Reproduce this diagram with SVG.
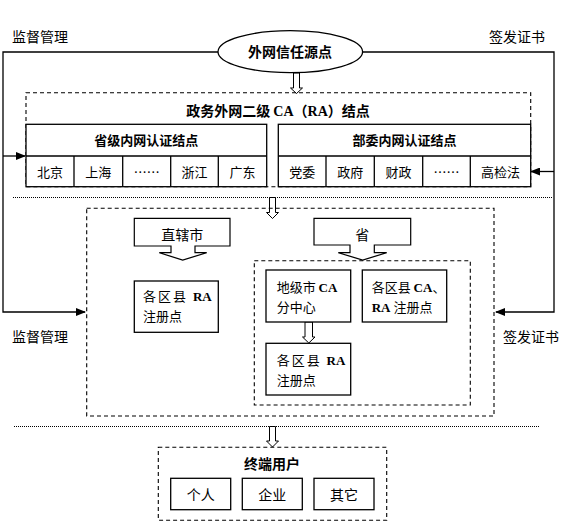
<svg xmlns="http://www.w3.org/2000/svg" width="580" height="530" viewBox="0 0 580 530">
<defs>
<marker id="ah" markerWidth="10" markerHeight="8" refX="9" refY="4" orient="auto" markerUnits="userSpaceOnUse">
<path d="M0,0 L10,4 L0,8 z" fill="#000"/>
</marker>
<style>
text{font-family:"Noto Sans CJK SC","Liberation Sans",sans-serif;fill:#000}
.t{font-size:14px}
.s{font-size:13px}
.b{font-weight:bold}
.lat{font-family:"Liberation Serif",serif;font-weight:bold}
.box{fill:#fff;stroke:#000;stroke-width:1.3}
.dash{fill:none;stroke:#000;stroke-width:1.1;stroke-dasharray:4 3}
.dot{fill:none;stroke:#000;stroke-width:1;stroke-dasharray:1 1}
.line{fill:none;stroke:#000;stroke-width:1.3}
.harrow{fill:#fff;stroke:#000;stroke-width:1}
.callout{fill:#fff;stroke:#000;stroke-width:1.2}
</style>
</defs>
<rect width="580" height="530" fill="#fff"/>

<!-- separators -->
<g id="separators">
<line class="dot" x1="13" y1="197.5" x2="553" y2="197.5"/>
<line class="dot" x1="14" y1="426.5" x2="540" y2="426.5"/>
</g>

<!-- connectors -->
<g id="connectors">
<polyline class="line" points="218,52 3,52 3,312 85,312" marker-end="url(#ah)"/>
<line class="line" x1="3" y1="156" x2="25" y2="156" marker-end="url(#ah)"/>
<polyline class="line" points="362,52 554,52 554,312 496,312" marker-end="url(#ah)"/>
<line class="line" x1="554" y1="171.5" x2="531" y2="171.5" marker-end="url(#ah)"/>
<path class="harrow" d="M293.5,73 H299.5 V88 H302.5 L296.5,93.5 L290.5,88 H293.5 Z"/>
<path class="harrow" d="M269.5,197.5 H275.5 V212.5 H278.5 L272.5,218.5 L266.5,212.5 H269.5 Z"/>
<path class="harrow" d="M305,322 H312.5 V337 H315 L308.8,343 L302.5,337 H305 Z"/>
<path class="harrow" d="M269.5,426.5 H275.5 V441 H278.5 L272.5,447 L266.5,441 H269.5 Z"/>
</g>

<!-- labels -->
<g id="labels">
<text class="t" x="12" y="42">监督管理</text>
<text class="t" x="489" y="42">签发证书</text>
<text class="t" x="12" y="342">监督管理</text>
<text class="t" x="503" y="342">签发证书</text>
</g>

<!-- root node -->
<g id="root">
<ellipse cx="290.3" cy="51.7" rx="72.3" ry="21" class="box"/>
<text class="t b" x="290" y="57" text-anchor="middle">外网信任源点</text>
</g>

<!-- second level CA -->
<g id="level2">
<rect class="dash" x="26" y="92.7" width="504.7" height="94"/>
<text class="t b" x="278" y="116" text-anchor="middle">政务外网二级 <tspan class="lat">CA</tspan>（<tspan class="lat">RA</tspan>）结点</text>
</g>

<g id="provincial">
<rect class="box" x="26" y="124.3" width="240.7" height="62.4"/>
<line class="line" x1="26" y1="156" x2="266.7" y2="156"/>
<line class="line" x1="74" y1="156" x2="74" y2="186.7"/>
<line class="line" x1="122.7" y1="156" x2="122.7" y2="186.7"/>
<line class="line" x1="170.7" y1="156" x2="170.7" y2="186.7"/>
<line class="line" x1="218.3" y1="156" x2="218.3" y2="186.7"/>
<text class="s b" x="146.3" y="145" text-anchor="middle">省级内网认证结点</text>
<text class="s" x="50" y="177" text-anchor="middle">北京</text>
<text class="s" x="98.3" y="177" text-anchor="middle">上海</text>
<text class="s" x="146.7" y="177" text-anchor="middle">……</text>
<text class="s" x="194.5" y="177" text-anchor="middle">浙江</text>
<text class="s" x="242.5" y="177" text-anchor="middle">广东</text>
</g>

<g id="ministerial">
<rect class="box" x="278.3" y="124.3" width="252.4" height="62.4"/>
<line class="line" x1="278.3" y1="156" x2="530.7" y2="156"/>
<line class="line" x1="326" y1="156" x2="326" y2="186.7"/>
<line class="line" x1="374.3" y1="156" x2="374.3" y2="186.7"/>
<line class="line" x1="422.7" y1="156" x2="422.7" y2="186.7"/>
<line class="line" x1="470.3" y1="156" x2="470.3" y2="186.7"/>
<text class="s b" x="404.5" y="145" text-anchor="middle">部委内网认证结点</text>
<text class="s" x="302.2" y="177" text-anchor="middle">党委</text>
<text class="s" x="350.2" y="177" text-anchor="middle">政府</text>
<text class="s" x="398.5" y="177" text-anchor="middle">财政</text>
<text class="s" x="446.5" y="177" text-anchor="middle">……</text>
<text class="s" x="500.5" y="177" text-anchor="middle">高检法</text>
</g>

<!-- regional level -->
<g id="regional">
<rect class="dash" x="86.7" y="208.3" width="407.3" height="207.7"/>
</g>

<g id="municipality">
<path class="callout" d="M134.3,218.3 H230 V246 H195 V252.7 H206.7 L182.7,260 L159.3,252.7 H171 V246 H134.3 Z"/>
<text class="t" x="182.2" y="240" text-anchor="middle">直辖市</text>
</g>

<g id="muni-ra">
<rect class="box" x="134.3" y="281" width="84" height="51.3"/>
<text class="s" x="143" y="301"><tspan letter-spacing="2">各区县 </tspan><tspan class="lat">RA</tspan></text>
<text class="s" x="143" y="321">注册点</text>
</g>

<g id="province">
<path class="callout" d="M314,218.3 H410.7 V245 H374.3 V252.7 H386.7 L362.7,260 L338.3,252.7 H350 V245 H314 Z"/>
<text class="t" x="362.3" y="240" text-anchor="middle">省</text>
</g>

<g id="province-area">
<rect class="dash" x="254.3" y="260.7" width="216" height="144.3"/>
</g>

<g id="city-ca">
<rect class="box" x="266" y="270" width="84.7" height="52"/>
<text class="s" x="276.7" y="292">地级市 <tspan class="lat">CA</tspan></text>
<text class="s" x="276.7" y="312">分中心</text>
</g>

<g id="county-ca-ra">
<rect class="box" x="362.3" y="270" width="84.4" height="52"/>
<text class="s" x="371.7" y="292">各区县 <tspan class="lat">CA</tspan>、</text>
<text class="s" x="371.7" y="312"><tspan class="lat">RA</tspan> 注册点</text>
</g>

<g id="city-ra">
<rect class="box" x="266" y="343.3" width="84.7" height="51.7"/>
<text class="s" x="276.7" y="365"><tspan letter-spacing="2">各区县 </tspan><tspan class="lat">RA</tspan></text>
<text class="s" x="276.7" y="385">注册点</text>
</g>

<!-- end users -->
<g id="end-users">
<rect class="dash" x="158.3" y="447.3" width="228.4" height="73"/>
<text class="t b" x="272" y="469" text-anchor="middle">终端用户</text>
</g>
<g id="user-personal">
<rect class="box" x="170.7" y="478.3" width="60" height="31.4"/>
<text class="t" x="200.7" y="500" text-anchor="middle">个人</text>
</g>
<g id="user-enterprise">
<rect class="box" x="242.3" y="478.3" width="60" height="31.4"/>
<text class="t" x="272.3" y="500" text-anchor="middle">企业</text>
</g>
<g id="user-other">
<rect class="box" x="314" y="478.3" width="60" height="31.4"/>
<text class="t" x="344" y="500" text-anchor="middle">其它</text>
</g>
</svg>
